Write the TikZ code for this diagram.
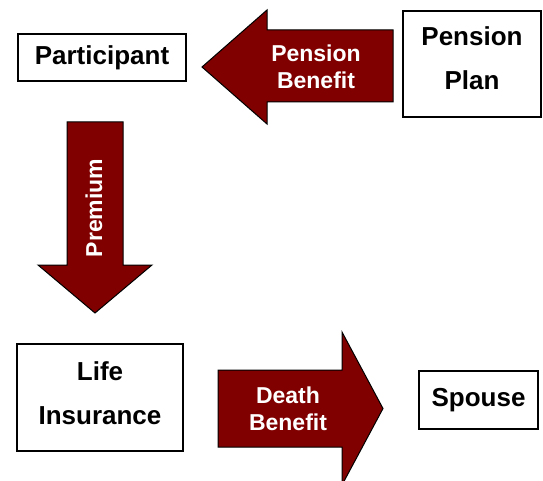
\documentclass[tikz,border=0pt]{standalone}
\usepackage{fontspec}
\setmainfont{Liberation Sans}
\definecolor{flowred}{HTML}{800000}
\begin{document}
\begin{tikzpicture}[x=1pt,y=-1pt,inner sep=0pt,outer sep=0pt,
party/.style={draw,rectangle,line width=2pt,align=center,font=\fontsize{26}{44}\selectfont\bfseries},
partytext/.style={align=center,font=\fontsize{26}{44}\selectfont\bfseries},
flow/.style={fill=flowred,draw=black,line width=1pt,line join=miter},
flowtext/.style={text=white,align=center,font=\fontsize{23}{27}\selectfont\bfseries}]
\useasboundingbox (0,0) rectangle (543,481);
% the parties
\draw (102,57.5) node[party,minimum width=168pt,minimum height=47pt] (part) {Participant};
\draw (472,64) node[party,minimum width=138pt,minimum height=106pt] (plan) {};
\draw (plan.center) ++(0,-6) node[partytext] (plantext) {Pension\\Plan};
\draw (100,397.5) node[party,minimum width=166pt,minimum height=107pt] (life) {};
\draw (life.center) ++(0,-4) node[partytext] (lifetext) {Life\\Insurance};
\draw (478.5,400) node[party,minimum width=119pt,minimum height=58pt] (spouse) {Spouse};
% block arrows between them
\draw[flow] (393,30) -- (267,30) -- (267,10) -- (202,67) -- (267,124) -- (267,102) -- (393,102) -- cycle;
\draw (316,67) node[flowtext] (penben) {Pension\\Benefit};
\draw[flow] (67,122) -- (67,265) -- (38,265) -- (95,313) -- (152,265) -- (123,265) -- (123,122) -- cycle;
\draw (94,208) node[flowtext,rotate=90] (prem) {Premium};
\draw[flow] (218,370) -- (342,370) -- (342,332) -- (383,408.5) -- (342,485) -- (342,447) -- (218,447) -- cycle;
\draw (288,409) node[flowtext] (deathben) {Death\\Benefit};

\end{tikzpicture}
\end{document}
